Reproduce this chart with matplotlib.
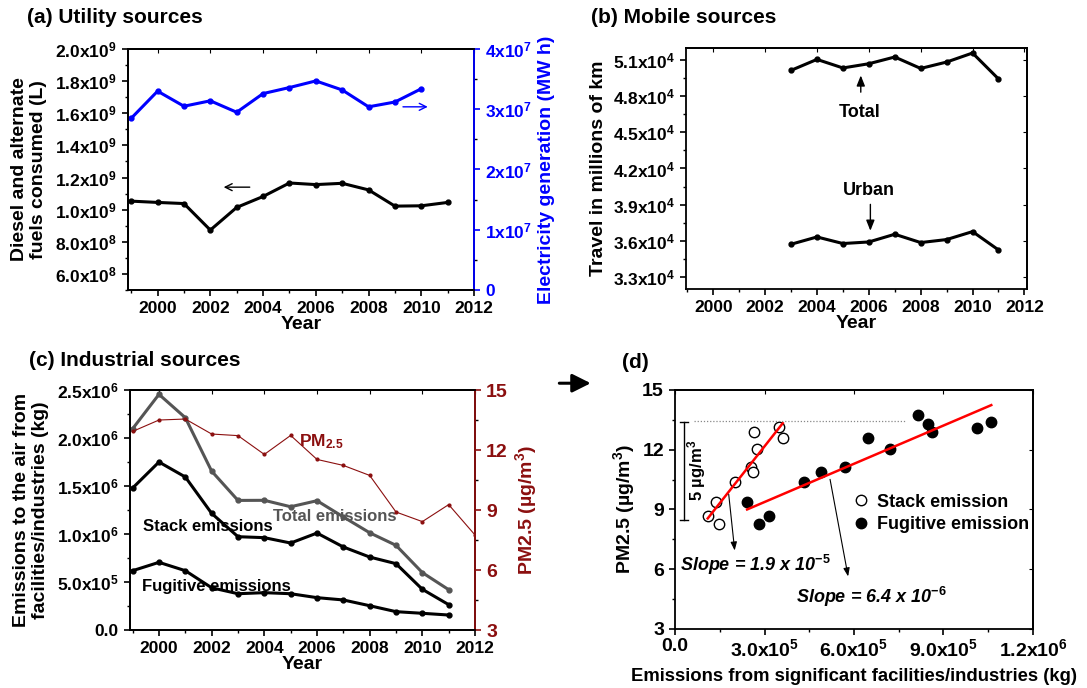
import numpy as np
import matplotlib
matplotlib.use('Agg')
import matplotlib.pyplot as plt
from matplotlib.ticker import MultipleLocator, FuncFormatter

plt.rcParams['font.family'] = ['Liberation Sans', 'DejaVu Sans']
plt.rcParams['font.weight'] = 'bold'
plt.rcParams['axes.labelweight'] = 'bold'
plt.rcParams['mathtext.fontset'] = 'custom'
plt.rcParams['mathtext.rm'] = 'Liberation Sans:bold'
plt.rcParams['mathtext.it'] = 'Liberation Sans:bold:italic'
plt.rcParams['mathtext.bf'] = 'Liberation Sans:bold'
plt.rcParams['font.size'] = 12.5
plt.rcParams['axes.labelsize'] = 14
plt.rcParams['axes.linewidth'] = 1.3

BLUE = '#0000ff'
DRED = '#8b0f0f'
GRAY = '#555555'

# (a) utility sources
years = [1999, 2000, 2001, 2002, 2003, 2004, 2005, 2006, 2007, 2008, 2009, 2010, 2011]
fuel = [1.053e9, 1.045e9, 1.038e9, 0.873e9, 1.014e9, 1.082e9, 1.166e9,
        1.156e9, 1.164e9, 1.123e9, 1.022e9, 1.024e9, 1.045e9]
elec_years = [1999, 2000, 2001, 2002, 2003, 2004, 2005, 2006, 2007, 2008, 2009, 2010]
elec = [2.85e7, 3.30e7, 3.05e7, 3.14e7, 2.95e7, 3.26e7, 3.36e7, 3.47e7,
        3.32e7, 3.04e7, 3.12e7, 3.34e7]

# (b) mobile sources
travel_years = [2003, 2004, 2005, 2006, 2007, 2008, 2009, 2010, 2011]
travel_total = [50140, 51050, 50340, 50690, 51250, 50300, 50830, 51580, 49430]
travel_urban = [35710, 36315, 35770, 35900, 36540, 35850, 36100, 36760, 35240]

# (c) industrial sources
total_em = [2.097e6, 2.455e6, 2.212e6, 1.655e6, 1.350e6, 1.351e6, 1.284e6,
            1.347e6, 1.178e6, 1.013e6, 0.882e6, 0.598e6, 0.420e6]
stack_em = [1.479e6, 1.750e6, 1.594e6, 1.215e6, 0.972e6, 0.962e6, 0.906e6,
            1.010e6, 0.865e6, 0.760e6, 0.691e6, 0.424e6, 0.264e6]
fug_em = [0.618e6, 0.705e6, 0.618e6, 0.440e6, 0.378e6, 0.389e6, 0.378e6,
          0.337e6, 0.313e6, 0.253e6, 0.191e6, 0.174e6, 0.156e6]
pm_years = [1999, 2000, 2001, 2002, 2003, 2004, 2005, 2006, 2007, 2008, 2009, 2010, 2011, 2012]
pm = [12.93, 13.5, 13.55, 12.8, 12.72, 11.78, 12.73, 11.53, 11.23, 10.73, 8.9, 8.42, 9.27, 7.75]

# (d) PM2.5 vs emissions from significant facilities
stack_x = [1.096e5, 1.376e5, 1.465e5, 2.00e5, 2.539e5, 2.606e5, 2.65e5, 2.762e5, 3.50e5, 3.612e5]
stack_y = [8.68, 9.35, 8.25, 10.39, 11.13, 10.86, 12.89, 12.03, 13.12, 12.60]
fug_x = [2.416e5, 2.829e5, 3.154e5, 4.328e5, 4.898e5, 5.703e5, 6.453e5,
         7.191e5, 8.13e5, 8.466e5, 8.60e5, 1.0132e6, 1.0602e6]
fug_y = [9.35, 8.25, 8.68, 10.39, 10.86, 11.11, 12.60, 12.03, 13.73, 13.29, 12.91, 13.11, 13.39]
stack_slope, fug_slope = 1.9e-5, 6.4e-6


def sci(v, pos, dec=1):
    if v == 0:
        return '0.0' if dec else '0'
    e = int(np.floor(np.log10(abs(v)) + 1e-9))
    m = v / 10 ** e
    return ('%.*fx10$^{%d}$' % (dec, m, e))


def style_ticks(ax):
    ax.tick_params(which='major', length=4.5, width=1.2, direction='out')
    ax.tick_params(which='minor', length=2.5, width=1.0, direction='out')


def inner_top(ax, right=False):
    sx = ax.secondary_xaxis('top')
    sx.set_xticks(ax.get_xticks())
    sx.tick_params(direction='in', length=3, labeltop=False)
    if right:
        sy = ax.secondary_yaxis('right')
        sy.set_yticks(ax.get_yticks())
        sy.tick_params(direction='in', length=3, labelright=False)


arrow_kw = dict(arrowstyle='-|>,head_width=0.2,head_length=0.5', color='k', lw=1)

fig = plt.figure(figsize=(10.87, 6.88), dpi=100)

# ---------- (a)
ax = fig.add_axes([0.1178, 0.5785, 0.3183, 0.3503])
ax.plot(years, fuel, 'k-o', lw=2.2, ms=3.5)
ax.set_xlim(1998.88, 2012)
ax.set_ylim(5e8, 2e9)
ax.set_xticks(range(2000, 2013, 2))
ax.xaxis.set_minor_locator(MultipleLocator(1))
ax.set_yticks(np.arange(6e8, 2.01e9, 2e8))
ax.yaxis.set_minor_locator(MultipleLocator(1e8))
ax.yaxis.set_major_formatter(FuncFormatter(sci))
style_ticks(ax)
ax.set_xlabel('Year', labelpad=0)
ax.set_ylabel('Diesel and alternate\nfuels consumed (L)', labelpad=6, linespacing=1.15)
ax.annotate('', xy=(2002.4, 1.14e9), xytext=(2003.6, 1.14e9),
            arrowprops=dict(arrowstyle='->', color='k', lw=1))
inner_top(ax)
ax2 = ax.twinx()
ax2.plot(elec_years, elec, '-o', color=BLUE, lw=2.2, ms=3.5)
ax2.set_ylim(0, 4e7)
ax2.set_yticks(np.arange(0, 4.01e7, 1e7))
ax2.yaxis.set_minor_locator(MultipleLocator(0.5e7))
ax2.yaxis.set_major_formatter(FuncFormatter(lambda v, p: sci(v, p, 0)))
style_ticks(ax2)
ax2.tick_params(axis='y', colors=BLUE)
ax2.spines['right'].set_color(BLUE)
ax2.set_ylabel('Electricity generation (MW h)', color=BLUE, labelpad=4)
ax2.annotate('', xy=(2010.35, 3.04e7), xytext=(2009.2, 3.04e7),
             arrowprops=dict(arrowstyle='->', color=BLUE, lw=1))

# ---------- (b)
bx = fig.add_axes([0.6311, 0.58, 0.3137, 0.3503])
bx.plot(travel_years, travel_total, 'k-o', lw=2.2, ms=3.5)
bx.plot(travel_years, travel_urban, 'k-o', lw=2.2, ms=3.5)
bx.set_xlim(1998.95, 2012.1)
bx.set_ylim(3.2e4, 5.2e4)
bx.set_xticks(range(2000, 2013, 2))
bx.xaxis.set_minor_locator(MultipleLocator(1))
bx.set_yticks(np.arange(3.3e4, 5.11e4, 3e3))
bx.yaxis.set_minor_locator(MultipleLocator(1.5e3))
bx.yaxis.set_major_formatter(FuncFormatter(sci))
style_ticks(bx)
bx.set_xlabel('Year', labelpad=0)
bx.set_ylabel('Travel in millions of km', labelpad=4)
inner_top(bx, right=True)
bx.text(2005.65, 46640, 'Total', ha='center', va='center', fontsize=13)
bx.annotate('', xy=(2005.69, 49950), xytext=(2005.69, 48100), arrowprops=arrow_kw)
bx.text(2006.0, 40210, 'Urban', ha='center', va='center', fontsize=13)
bx.annotate('', xy=(2006.06, 36600), xytext=(2006.06, 39250), arrowprops=arrow_kw)

# ---------- (c)
cx = fig.add_axes([0.1196, 0.0843, 0.3174, 0.3488])
cx.plot(years, total_em, '-o', color=GRAY, lw=2.2, ms=3.5)
cx.plot(years, stack_em, 'k-o', lw=2.2, ms=3.5)
cx.plot(years, fug_em, 'k-o', lw=2.2, ms=3.5)
cx.set_xlim(1998.9, 2012)
cx.set_ylim(0, 2.5e6)
cx.set_xticks(range(2000, 2013, 2))
cx.xaxis.set_minor_locator(MultipleLocator(1))
cx.set_yticks(np.arange(0, 2.51e6, 5e5))
cx.yaxis.set_minor_locator(MultipleLocator(2.5e5))
cx.yaxis.set_major_formatter(FuncFormatter(sci))
style_ticks(cx)
cx.set_xlabel('Year', labelpad=0)
cx.set_ylabel('Emissions to the air from\nfacilities/industries (kg)', labelpad=6, linespacing=1.15)
inner_top(cx)
cx.text(2004.32, 1.18e6, 'Total emissions', color=GRAY, va='center', fontsize=12)
cx.text(1999.40, 1.08e6, 'Stack emissions', color='k', va='center', fontsize=12)
cx.text(1999.36, 0.45e6, 'Fugitive emissions', color='k', va='center', fontsize=12)
cx.text(2005.3, 1.96e6, 'PM$_{2.5}$', color=DRED, va='center', fontsize=12.5)
cx2 = cx.twinx()
cx2.plot(pm_years, pm, '-o', color=DRED, lw=0.8, ms=2)
cx2.set_ylim(3, 15)
cx2.set_yticks([3, 6, 9, 12, 15])
cx2.yaxis.set_minor_locator(MultipleLocator(1.5))
style_ticks(cx2)
cx2.tick_params(axis='y', colors=DRED, labelsize=14)
cx2.spines['right'].set_color(DRED)
cx2.set_ylabel('PM2.5 (µg/m$^{3}$)', color=DRED, fontsize=14, labelpad=4)

# ---------- (d)
dx = fig.add_axes([0.621, 0.0858, 0.3293, 0.3474])
dx.plot(stack_x, stack_y, 'o', mfc='white', mec='k', mew=1, ms=7.5, label='Stack emission')
dx.plot(fug_x, fug_y, 'o', color='k', ms=7.5, label='Fugitive emission')
sx0, sx1 = min(stack_x), max(stack_x)
fx0, fx1 = min(fug_x), max(fug_x)
xs = np.array([sx0, sx1])
dx.plot(xs, 8.55 + stack_slope * (xs - sx0), color='red', lw=1.8)
xf = np.array([fx0, fx1])
dx.plot(xf, 9.0 + fug_slope * (xf - fx0), color='red', lw=1.8)
dx.plot([0.65e5, 7.75e5], [13.45, 13.45], ls=(0, (1, 1.5)), color='#888888', lw=0.9)
dx.plot([0.3e5, 0.3e5], [8.45, 13.37], color='k', lw=1)
dx.plot([0.16e5, 0.44e5], [13.37, 13.37], color='k', lw=1)
dx.plot([0.16e5, 0.44e5], [8.45, 8.45], color='k', lw=1)
dx.text(0.73e5, 10.95, '5 µg/m$^{3}$', rotation=90, ha='center', va='center', fontsize=12)
dx.annotate('', xy=(2.01e5, 6.8), xytext=(1.79e5, 9.9),
            arrowprops=dict(arrowstyle='-|>,head_width=0.15,head_length=0.4', color='k', lw=0.8))
dx.annotate('', xy=(5.82e5, 5.5), xytext=(5.18e5, 10.65),
            arrowprops=dict(arrowstyle='-|>,head_width=0.15,head_length=0.4', color='k', lw=0.8))
dx.text(0.17e5, 6.2, r'Slope = 1.9 x 10$^{\mathit{-5}}$', style='italic', va='center', fontsize=13)
dx.text(4.06e5, 4.62, r'Slope = 6.4 x 10$^{\mathit{-6}}$', style='italic', va='center', fontsize=13)
dx.set_xlim(0, 1.2e6)
dx.set_ylim(3, 15)
dx.set_xticks(np.arange(0, 1.21e6, 3e5))
dx.xaxis.set_minor_locator(MultipleLocator(1.5e5))
dx.xaxis.set_major_formatter(FuncFormatter(sci))
dx.set_yticks([3, 6, 9, 12, 15])
dx.yaxis.set_minor_locator(MultipleLocator(1.5))
style_ticks(dx)
dx.tick_params(labelsize=14)
dx.tick_params(axis='x', pad=2)
dx.set_xlabel('Emissions from significant facilities/industries (kg)', labelpad=6, fontsize=13.3)
dx.set_ylabel('PM2.5 (µg/m$^{3}$)', labelpad=4)
inner_top(dx, right=True)
dx.legend(loc='center left', bbox_to_anchor=(0.494, 0.483), frameon=False,
          handlelength=1, handletextpad=0.4, borderpad=0, borderaxespad=0,
          labelspacing=0.3, fontsize=13)

# panel titles and linking arrow
fig.text(0.0248, 0.975, '(a) Utility sources', fontsize=15, va='center')
fig.text(0.5437, 0.975, '(b) Mobile sources', fontsize=15, va='center')
fig.text(0.0267, 0.4767, '(c) Industrial sources', fontsize=15, va='center')
fig.text(0.572, 0.4724, '(d)', fontsize=15, va='center')
fig.patches.append(matplotlib.patches.FancyArrowPatch(
    (0.512, 0.443), (0.546, 0.443), transform=fig.transFigure,
    arrowstyle='-|>,head_width=0.4,head_length=0.8', color='k', lw=2.2,
    mutation_scale=14))

fig.savefig('out.png', dpi=100)
